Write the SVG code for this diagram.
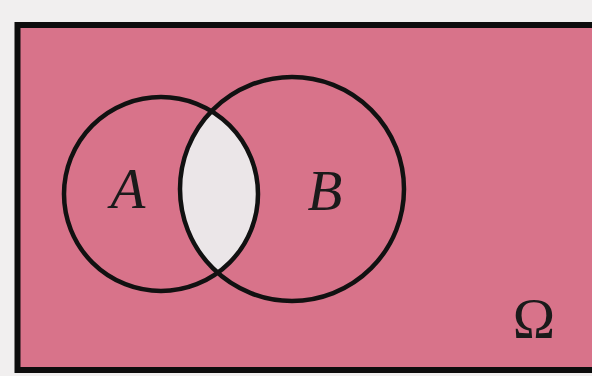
<svg xmlns="http://www.w3.org/2000/svg" width="592" height="376" viewBox="0 0 592 376">
  <style>
    .set { fill: none; stroke: #111; stroke-width: 4.5; }
    .lbl { font-family: "Liberation Serif", "Times New Roman", serif; font-size: 57px; fill: #1a1a1a; text-anchor: middle; }
  </style>
  <defs>
    <clipPath id="clipA"><circle cx="161" cy="194" r="97"/></clipPath>
  </defs>
  <rect x="0" y="0" width="592" height="376" fill="#f1efef"/>
  <g id="omega">
    <rect x="17.5" y="25" width="584" height="345" fill="#d8738a" stroke="#0d0d0d" stroke-width="6"/>
    <text class="lbl" x="534" y="338">Ω</text>
  </g>
  <g id="intersection">
    <circle cx="292" cy="189" r="112" fill="#ebe6e8" clip-path="url(#clipA)"/>
  </g>
  <g id="setA">
    <circle class="set" cx="161" cy="194" r="97"/>
    <text class="lbl" x="128" y="208" font-style="italic">A</text>
  </g>
  <g id="setB">
    <circle class="set" cx="292" cy="189" r="112"/>
    <text class="lbl" x="325" y="210" font-style="italic">B</text>
  </g>
  <g id="connectors"></g>
</svg>
